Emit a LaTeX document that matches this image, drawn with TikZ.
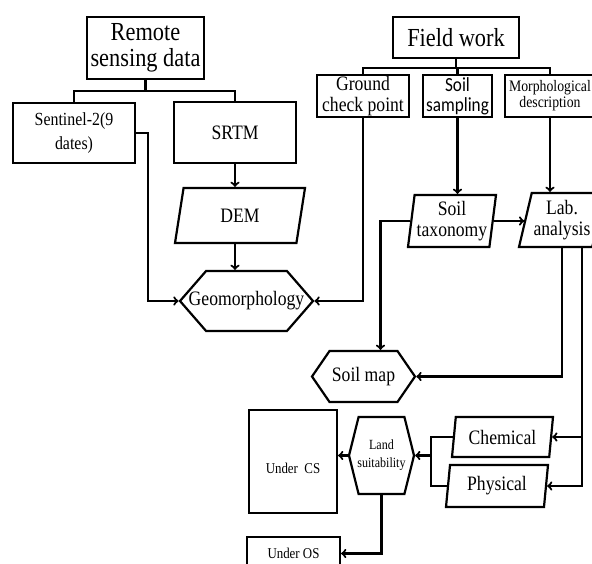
\documentclass[tikz,border=0pt]{standalone}
\usepackage{fontspec}
\setmainfont[FakeStretch=0.86]{Liberation Serif}
\newfontfamily\calibri[FakeStretch=0.86]{Carlito}
\usetikzlibrary{shapes.geometric,shapes.symbols}

\begin{document}
\begin{tikzpicture}
[x=1pt,y=-1pt,line width=2.2pt]
\tikzstyle{box}=[rectangle,draw,inner sep=1pt,align=center,font=\fontsize{20.5}{21}\selectfont]
\tikzstyle{bigbox}=[box,font=\fontsize{26}{26}\selectfont]
\tikzstyle{data}=[trapezium,trapezium stretches body,draw,inner sep=1pt,align=center,font=\fontsize{20.5}{21}\selectfont]
\tikzstyle{hexa}=[signal,signal to=east and west,draw,inner sep=0pt,align=center,font=\fontsize{20.5}{21}\selectfont]

\useasboundingbox(0,0)rectangle(592,563);
\clip(0,0)rectangle(592,563);

\node(rsd)[bigbox,minimum width=117,minimum height=62]at(145.5,48){Remote\\sensing data};
\node(fw)[bigbox,minimum width=126,minimum height=41]at(456,37.5){Field work};
\node(sen)[box,font=\fontsize{18.5}{24}\selectfont,minimum width=122,minimum height=60]at(74,133){Sentinel-2(9\\dates)};
\node(srtm)[box,minimum width=122,minimum height=61]at(235,132.5){SRTM};
\node(gcp)[box,minimum width=92,minimum height=42]at(363,96){Ground\\check point};
\node(ss)[box,font=\fontsize{20}{20}\calibri,minimum width=69,minimum height=42]at(457.5,96){Soil\\sampling};
\node(md)[box,font=\fontsize{16}{16}\selectfont,minimum width=90,minimum height=42]at(550,96){Morphological\\description};

\node(dem)[data,trapezium left angle=61,trapezium right angle=119,minimum width=130,minimum height=55]at(240,215.5){DEM};
\node(tax)[data,trapezium left angle=81,trapezium right angle=99,minimum width=88,minimum height=52]at(452,221){Soil\\taxonomy};
\node(lab)[data,trapezium left angle=73,trapezium right angle=107,minimum width=86,minimum height=54]at(562,220){Lab.\\analysis};
\node(geo)[hexa,signal pointer angle=98,minimum width=133,minimum height=60]at(246.5,301){\makebox[0pt]{Geomorphology}};
\node(smap)[hexa,signal pointer angle=111,minimum width=103,minimum height=51]at(363.5,376.5){Soil map};

\node(chem)[data,trapezium left angle=77,trapezium right angle=103,minimum width=101,minimum height=40]at(502.5,437){Chemical};
\node(phys)[data,trapezium left angle=79,trapezium right angle=101,minimum width=102,minimum height=42]at(497,486){Physical};
\node(ls)[hexa,signal pointer angle=152,font=\fontsize{14}{18}\selectfont,minimum width=65,minimum height=77]at(381.5,455.5){\makebox[0pt]{Land}\\\makebox[0pt]{suitability}};
\node(ucs)[box,font=\fontsize{15}{15}\selectfont,minimum width=88,minimum height=103]at(293,461.5){\raisebox{-12pt}[0pt][0pt]{Under\ \ CS}};
\node(uos)[box,font=\fontsize{15}{15}\selectfont,minimum width=93,minimum height=33]at(293.5,553.5){Under OS};

\draw(rsd.south)--++(0,11)-|(sen.north);
\draw(rsd.south)++(0,11)-|(srtm.north);
\draw(fw.south)--++(0,9)-|(gcp.north);
\draw(fw.south)++(0,9)-|(ss.north);
\draw(fw.south)++(0,9)-|(md.north);

\draw[->](srtm.south)--(srtm.south |- dem.north);
\draw[->](dem.south -| srtm.south)--(geo.north -| srtm.south);
\draw[->](sen.east)--++(12,0)|-(geo.west);
\draw[->](gcp.south)|-(geo.east);
\draw[->](ss.south)--(ss.south |- tax.north);
\draw[->](md.south)--(md.south |- lab.north);
\draw[->](tax.east)--(tax.east -| lab.west);
\draw[->](tax.west)-|([xshift=17pt]smap.north);
\draw[->](lab.south)|-(smap.east);
\draw[->]([xshift=20pt]lab.south)|-(chem.east);
\draw[->]([xshift=20pt]lab.south)|-(phys.east);
\draw(chem.west)-|([xshift=16pt]ls.east)|-(phys.west);
\draw[->]([xshift=16pt]ls.east)--(ls.east);
\draw[->](ls.west)--(ls.west -| ucs.east);
\draw[->](ls.south)|-(uos.east);
\end{tikzpicture}
\end{document}
